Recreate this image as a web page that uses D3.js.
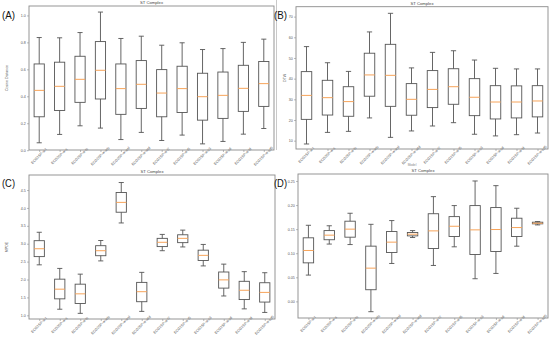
<!DOCTYPE html>
<html><head><meta charset="utf-8">
<script src="https://cdn.jsdelivr.net/npm/d3@7"></script>
<style>body{margin:0;background:#fff}svg{display:block}</style>
</head><body>
<script>
// ---- data ----
const categories = ["ECG2SP-w-l","ECG2SP-w-s","ECG2SP-w-ls","ECG2SP-w-wls","ECG2SP-w-wsl","ECG2SP-w-wld",
                    "ECG2SP-w-l7","ECG2SP-w-l5","ECG2SP-w-s3","ECG2SP-w-sd","ECG2SP-w-ld","ECG2SP-w-sd5"];
// [whisker low, Q1, median, Q3, whisker high]
const statsA = [[0.055,0.248,0.444,0.640,0.836],[0.117,0.295,0.474,0.653,0.834],[0.181,0.355,0.526,0.697,0.873],
  [0.164,0.380,0.593,0.806,1.025],[0.079,0.266,0.457,0.640,0.829],[0.132,0.310,0.489,0.665,0.846],
  [0.072,0.248,0.424,0.598,0.779],[0.112,0.280,0.457,0.623,0.797],[0.047,0.223,0.397,0.571,0.747],
  [0.065,0.236,0.407,0.580,0.754],[0.119,0.288,0.459,0.630,0.800],[0.161,0.325,0.494,0.658,0.824]];
const statsB = [[8.4,20.3,31.9,43.4,55.5],[14.0,22.4,30.8,39.2,47.7],[14.5,21.8,28.9,36.1,43.5],
  [21.0,31.5,41.8,52.3,62.6],[11.6,26.6,41.6,56.6,71.6],[14.7,22.3,30.0,37.6,45.2],
  [17.1,26.0,34.8,43.9,52.7],[18.7,27.6,36.1,44.8,53.5],[13.1,22.1,31.0,40.0,49.0],
  [12.3,20.5,28.7,36.6,45.0],[12.9,21.0,28.7,36.5,44.7],[13.7,21.5,29.2,36.6,44.7]];
const statsC = [[2.41,2.64,2.86,3.085,3.32],[1.17,1.46,1.73,2.01,2.31],[1.055,1.33,1.60,1.87,2.15],
  [2.52,2.665,2.805,2.945,3.09],[3.58,3.88,4.155,4.43,4.71],[1.11,1.38,1.66,1.92,2.20],
  [2.805,2.92,3.04,3.15,3.26],[2.91,3.03,3.15,3.25,3.38],[2.38,2.53,2.675,2.82,2.98],
  [1.54,1.76,1.99,2.21,2.43],[1.18,1.44,1.70,1.95,2.22],[1.08,1.37,1.64,1.91,2.19]];
const statsD = [[0.0546,0.080,0.1057,0.132,0.158],[0.119,0.128,0.1375,0.147,0.157],[0.118,0.1333,0.150,0.1665,0.183],
  [-0.0214,0.0242,0.069,0.1147,0.160],[0.0787,0.1015,0.123,0.145,0.1678],[0.1326,0.136,0.1395,0.143,0.147],
  [0.0746,0.1098,0.1464,0.182,0.2175],[0.1133,0.1347,0.156,0.176,0.1989],[0.047,0.0974,0.1485,0.1989,0.250],
  [0.058,0.1036,0.1492,0.1948,0.2403],[0.1146,0.1347,0.1533,0.1727,0.1934],[0.1588,0.161,0.1623,0.1644,0.1658]];
const ticksA = [0.0,0.2,0.4,0.6,0.8,1.0];
const ticksB = [10,20,30,40,50,60,70];
const ticksC = [1.0,1.5,2.0,2.5,3.0,3.5,4.0,4.5];
const ticksD = [0.00,0.05,0.10,0.15,0.20,0.25];
const panelTags = ["(A)","(B)","(C)","(D)"];
const yLabels = ["Cosine Distance","DTW","MPDE",""];
const title = "ST Complex";

// ---- layout ----
const panels = [
  {tag:panelTags[0], ylab:yLabels[0], stats:statsA, ticks:ticksA, fmt:d3.format(".1f"), dom:[0.0015,1.07], l:29, r:274, t:6, b:150, tagX:2, tagY:19, ylx:8},
  {tag:panelTags[1], ylab:yLabels[1], stats:statsB, ticks:ticksB, fmt:d3.format("d"), dom:[5.97,74.8], l:296, r:548, t:6.7, b:149, tagX:274, tagY:19, ylx:286},
  {tag:panelTags[2], ylab:yLabels[2], stats:statsC, ticks:ticksC, fmt:d3.format(".1f"), dom:[0.897,4.92], l:29, r:275, t:175, b:319, tagX:2, tagY:187, ylx:8},
  {tag:panelTags[3], ylab:yLabels[3], stats:statsD, ticks:ticksD, fmt:d3.format(".2f"), dom:[-0.0345,0.2645], l:298, r:548, t:174, b:318, tagX:274, tagY:187, ylx:286}
];

const svg = d3.select("body").append("svg").attr("width",550).attr("height",339)
  .style("font-family","'Liberation Sans', Arial, sans-serif");

svg.append("line").attr("x1",276.5).attr("x2",276.5).attr("y1",0).attr("y2",150)
  .attr("stroke","#bbb").attr("stroke-width",0.8);

panels.forEach(p => {
  const g = svg.append("g");
  const x = d3.scaleLinear().domain([0.5, 12.5]).range([p.l, p.r]);
  const y = d3.scaleLinear().domain(p.dom).range([p.b, p.t]);
  const step = x(2) - x(1);
  const bw = step * 0.5, cw = step * 0.25;

  // axes
  const ya = d3.axisLeft(y).tickValues(p.ticks).tickFormat(p.fmt).tickSize(2).tickPadding(1.2);
  const gy = g.append("g").attr("transform",`translate(${p.l},0)`).call(ya);
  const xa = d3.axisBottom(x).tickValues(d3.range(1,13)).tickFormat(i => categories[i-1]).tickSize(2).tickPadding(1);
  const gx = g.append("g").attr("transform",`translate(0,${p.b})`).call(xa);
  [gy,gx].forEach(a => {
    a.select(".domain").remove();
    a.selectAll("line").attr("stroke","#777").attr("stroke-width",0.5);
    a.selectAll("text").attr("fill","#555").style("font-size","3.6px");
  });
  gx.selectAll("text").attr("text-anchor","middle").attr("dy",0)
    .attr("transform","translate(0,7) rotate(-45)")
    .attr("y",0);

  // frame
  g.append("rect").attr("x",p.l).attr("y",p.t).attr("width",p.r-p.l).attr("height",p.b-p.t)
    .attr("fill","none").attr("stroke","#8a8a8a").attr("stroke-width",0.9);

  // title
  g.append("text").attr("x",(p.l+p.r)/2).attr("y",p.t-1.8).attr("text-anchor","middle")
    .style("font-size","4.2px").attr("fill","#444").text(title);

  // y label
  if (p.ylab) g.append("text").attr("transform",`translate(${p.ylx},${(p.t+p.b)/2}) rotate(-90)`)
    .attr("text-anchor","middle").style("font-size","3.6px").attr("fill","#555").text(p.ylab);

  // panel tag
  svg.append("text").attr("x",p.tagX).attr("y",p.tagY).style("font-size","10.5px")
    .attr("textLength",13).attr("lengthAdjust","spacingAndGlyphs").attr("fill","#111").text(p.tag);

  // boxes
  const bx = g.selectAll("g.box").data(p.stats).join("g").attr("class","box");
  const stroke = "#555", sw = 0.9;
  bx.append("line").attr("x1",(d,i)=>x(i+1)).attr("x2",(d,i)=>x(i+1))
    .attr("y1",d=>y(d[0])).attr("y2",d=>y(d[1])).attr("stroke",stroke).attr("stroke-width",sw);
  bx.append("line").attr("x1",(d,i)=>x(i+1)).attr("x2",(d,i)=>x(i+1))
    .attr("y1",d=>y(d[3])).attr("y2",d=>y(d[4])).attr("stroke",stroke).attr("stroke-width",sw);
  bx.append("line").attr("x1",(d,i)=>x(i+1)-cw/2).attr("x2",(d,i)=>x(i+1)+cw/2)
    .attr("y1",d=>y(d[0])).attr("y2",d=>y(d[0])).attr("stroke",stroke).attr("stroke-width",sw);
  bx.append("line").attr("x1",(d,i)=>x(i+1)-cw/2).attr("x2",(d,i)=>x(i+1)+cw/2)
    .attr("y1",d=>y(d[4])).attr("y2",d=>y(d[4])).attr("stroke",stroke).attr("stroke-width",sw);
  bx.append("rect").attr("x",(d,i)=>x(i+1)-bw/2).attr("width",bw)
    .attr("y",d=>y(d[3])).attr("height",d=>Math.max(0.5,y(d[1])-y(d[3])))
    .attr("fill","none").attr("stroke",stroke).attr("stroke-width",sw);
  bx.append("line").attr("x1",(d,i)=>x(i+1)-bw/2).attr("x2",(d,i)=>x(i+1)+bw/2)
    .attr("y1",d=>y(d[2])).attr("y2",d=>y(d[2])).attr("stroke","#f7a45a").attr("stroke-width",1);
});

// small x-axis caption under panel B
svg.append("text").attr("x",412).attr("y",166.2).attr("text-anchor","middle")
  .style("font-size","3.2px").attr("fill","#888").text("Model");
</script>
</body></html>
